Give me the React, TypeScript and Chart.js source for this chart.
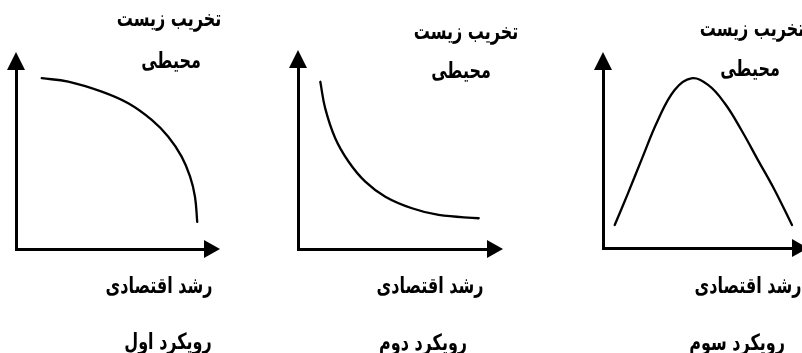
import React, { useEffect, useRef } from "react";
import { Chart, registerables } from "chart.js";

Chart.register(...registerables);

// ---- Data (axis units 0..10) ----
const yTitleLine1 = "تخریب زیست";
const yTitleLine2 = "محیطی";
const xTitle = "رشد اقتصادی";
const panelNames = ["رویکرد اول", "رویکرد دوم", "رویکرد سوم"];

const curve1X = [1.37, 2.78, 4.56, 5.97, 7.22, 8.1, 8.81, 9.26, 9.52, 9.64];
const curve1Y = [9.54, 9.35, 8.79, 8.14, 7.21, 6.27, 5.16, 4.04, 2.92, 1.52];

const curve2X = [1.18, 1.44, 1.97, 2.68, 3.56, 4.62, 6.03, 7.44, 9.56];
const curve2Y = [9.24, 7.77, 6.12, 4.82, 3.72, 2.89, 2.25, 1.88, 1.7];

const curve3X = [0.62, 1.32, 2.03, 2.91, 3.79, 4.67, 5.56, 6.44, 7.32, 8.2, 9.08, 10.0];
const curve3Y = [1.29, 3.07, 4.94, 7.19, 8.88, 9.53, 9.16, 8.13, 6.63, 4.94, 3.26, 1.29];

const FONT = '"DejaVu Sans", "Noto Sans", sans-serif';

type PanelCfg = {
  left: number;
  width: number;
  pad: { left: number; top: number; right: number; bottom: number };
  xs: number[];
  ys: number[];
  labels: { text: string; x: number; y: number }[];
};

const panels: PanelCfg[] = [
  {
    left: 0,
    width: 270,
    pad: { left: 16, top: 70, right: 66, bottom: 104 },
    xs: curve1X,
    ys: curve1Y,
    labels: [
      { text: yTitleLine1, x: 169, y: 18 },
      { text: yTitleLine2, x: 171, y: 60 },
      { text: xTitle, x: 159, y: 285 },
      { text: panelNames[0], x: 168, y: 341 },
    ],
  },
  {
    left: 270,
    width: 270,
    pad: { left: 28, top: 68, right: 53, bottom: 104 },
    xs: curve2X,
    ys: curve2Y,
    labels: [
      { text: yTitleLine1, x: 466, y: 31 },
      { text: yTitleLine2, x: 461, y: 70 },
      { text: xTitle, x: 430, y: 285 },
      { text: panelNames[1], x: 423, y: 342 },
    ],
  },
  {
    left: 540,
    width: 262,
    pad: { left: 63, top: 70, right: 10, bottom: 105 },
    xs: curve3X,
    ys: curve3Y,
    labels: [
      { text: yTitleLine1, x: 752, y: 28 },
      { text: yTitleLine2, x: 750, y: 68 },
      { text: xTitle, x: 748, y: 285 },
      { text: panelNames[2], x: 737, y: 342 },
    ],
  },
];

const arrowPlugin = {
  id: "axisArrows",
  afterDraw(chart: any) {
    const { ctx, chartArea } = chart;
    const { left, right, top, bottom } = chartArea;
    ctx.save();
    ctx.fillStyle = "#000";
    ctx.beginPath();
    ctx.moveTo(left - 9, top);
    ctx.lineTo(left + 9, top);
    ctx.lineTo(left, top - 18);
    ctx.closePath();
    ctx.fill();
    ctx.beginPath();
    ctx.moveTo(right, bottom - 9);
    ctx.lineTo(right, bottom + 9);
    ctx.lineTo(right + 16, bottom);
    ctx.closePath();
    ctx.fill();
    ctx.restore();
  },
};

function Panel({ cfg }: { cfg: PanelCfg }) {
  const ref = useRef<HTMLCanvasElement | null>(null);
  useEffect(() => {
    if (!ref.current) return;
    const data = cfg.xs.map((x, i) => ({ x, y: cfg.ys[i] }));
    const chart = new Chart(ref.current, {
      type: "line",
      data: {
        datasets: [
          {
            data,
            borderColor: "#000",
            borderWidth: 2.3,
            pointRadius: 0,
            fill: false,
            tension: 0.4,
            borderCapStyle: "round",
            borderJoinStyle: "round",
            clip: 6,
          },
        ],
      },
      options: {
        animation: false,
        responsive: false,
        layout: { padding: cfg.pad },
        elements: { line: { capBezierPoints: false } },
        plugins: { legend: { display: false }, tooltip: { enabled: false } },
        scales: {
          x: {
            type: "linear",
            min: 0,
            max: 10,
            ticks: { display: false },
            grid: { display: false, drawTicks: false },
            border: { display: true, color: "#000", width: 3 },
          },
          y: {
            type: "linear",
            min: 0,
            max: 10,
            ticks: { display: false },
            grid: { display: false, drawTicks: false },
            border: { display: true, color: "#000", width: 3 },
          },
        },
      },
      plugins: [arrowPlugin],
    } as any);
    return () => chart.destroy();
  }, [cfg]);
  return (
    <canvas
      ref={ref}
      width={cfg.width}
      height={353}
      style={{ position: "absolute", left: cfg.left, top: 0, width: cfg.width, height: 353 }}
    />
  );
}

export default function App() {
  return (
    <div
      style={{
        position: "absolute",
        left: 0,
        top: 0,
        width: 802,
        height: 353,
        background: "#fff",
        overflow: "hidden",
      }}
    >
      {panels.map((p, i) => (
        <Panel key={i} cfg={p} />
      ))}
      {panels.flatMap((p, i) =>
        p.labels.map((l, j) => (
          <span
            key={`${i}-${j}`}
            dir="rtl"
            style={{
              position: "absolute",
              left: l.x,
              top: l.y,
              transform: "translate(-50%, -50%) scaleY(1.4)",
              whiteSpace: "nowrap",
              font: `bold 16px ${FONT}`,
              color: "#000",
            }}
          >
            {l.text}
          </span>
        ))
      )}
    </div>
  );
}
